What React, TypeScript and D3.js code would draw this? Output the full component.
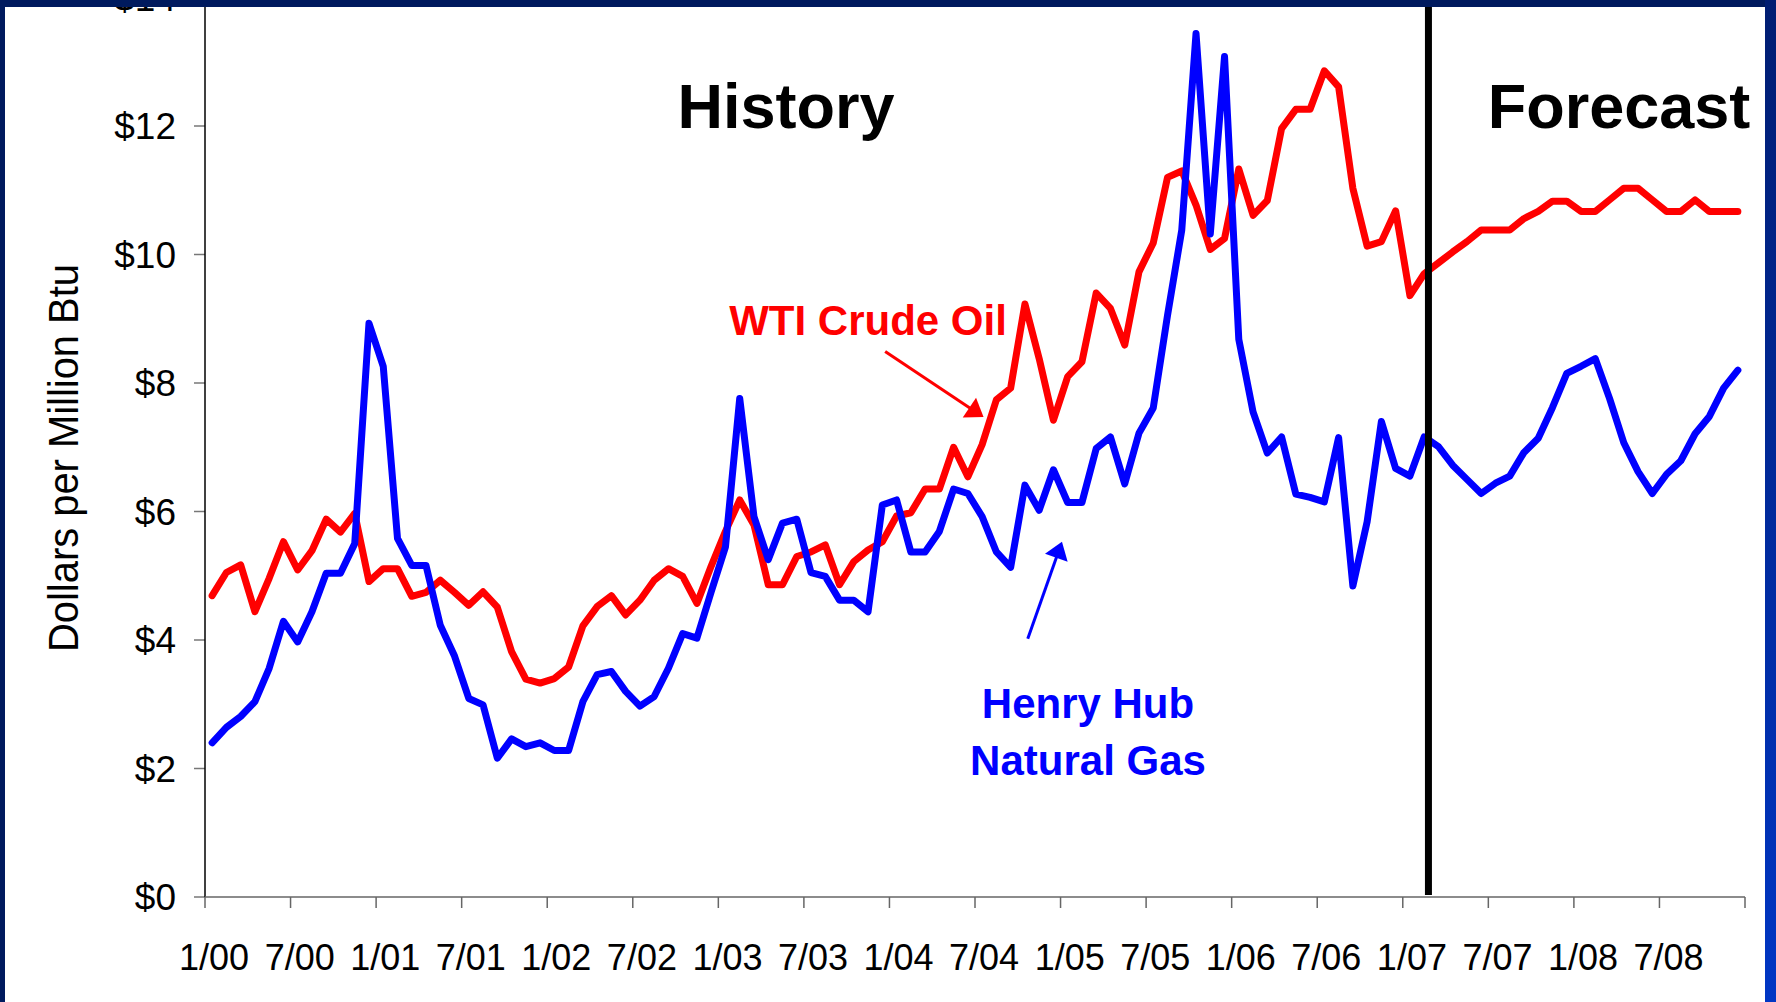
import React from 'react';
import * as d3 from 'd3';

const xTickLabels = ["1/00","7/00","1/01","7/01","1/02","7/02","1/03","7/03","1/04","7/04","1/05","7/05","1/06","7/06","1/07","7/07","1/08","7/08"];
const yTicks = [0, 2, 4, 6, 8, 10, 12, 14];

// Monthly, Jan 2000 - Dec 2008, $/MMBtu
const wti = [
  4.69, 5.05, 5.17, 4.44, 4.96, 5.53, 5.09, 5.39, 5.88, 5.68, 5.97, 4.91,
  5.11, 5.11, 4.68, 4.74, 4.93, 4.74, 4.54, 4.75, 4.51, 3.82, 3.39, 3.33,
  3.40, 3.58, 4.22, 4.52, 4.69, 4.39, 4.62, 4.93, 5.11, 4.99, 4.57, 5.15,
  5.69, 6.18, 5.79, 4.86, 4.86, 5.30, 5.37, 5.48, 4.86, 5.22, 5.40, 5.53,
  5.93, 5.98, 6.35, 6.35, 7.00, 6.54, 7.04, 7.74, 7.92, 9.23, 8.38, 7.42,
  8.10, 8.33, 9.40, 9.16, 8.59, 9.73, 10.18, 11.20, 11.30, 10.77, 10.08, 10.25,
  11.33, 10.61, 10.84, 11.96, 12.26, 12.26, 12.86, 12.61, 11.03, 10.13, 10.20, 10.68,
  9.36, 9.70, 9.87, 10.04, 10.20, 10.38, 10.38, 10.38, 10.56, 10.67, 10.83, 10.83,
  10.67, 10.67, 10.85, 11.03, 11.03, 10.85, 10.67, 10.67, 10.85, 10.67, 10.67, 10.67,
];

const henryHub = [
  2.40, 2.64, 2.81, 3.04, 3.56, 4.29, 3.97, 4.44, 5.04, 5.04, 5.50, 8.93,
  8.26, 5.58, 5.16, 5.16, 4.23, 3.75, 3.09, 2.99, 2.16, 2.46, 2.34, 2.40,
  2.28, 2.28, 3.04, 3.46, 3.51, 3.20, 2.97, 3.12, 3.56, 4.10, 4.03, 4.75,
  5.45, 7.76, 5.92, 5.25, 5.82, 5.88, 5.05, 4.99, 4.62, 4.62, 4.44, 6.10,
  6.18, 5.37, 5.37, 5.69, 6.35, 6.28, 5.92, 5.37, 5.13, 6.41, 6.02, 6.65,
  6.14, 6.14, 6.98, 7.16, 6.43, 7.22, 7.61, 9.05, 10.38, 13.44, 10.32, 13.08,
  8.68, 7.55, 6.91, 7.16, 6.27, 6.22, 6.15, 7.15, 4.84, 5.84, 7.40, 6.67,
  6.55, 7.16, 7.01, 6.72, 6.50, 6.28, 6.44, 6.55, 6.92, 7.14, 7.62, 8.15,
  8.26, 8.38, 7.76, 7.07, 6.62, 6.28, 6.58, 6.79, 7.21, 7.48, 7.92, 8.20,
];

// month position (in months since Jan 2000) of the history/forecast divider
const forecastDivider = 85.8;

// annotation arrows in data units: [month, value]
const wtiArrow = { from: [47.7, 8.49], to: [54.6, 7.47] };
const hhArrow = { from: [57.7, 4.02], to: [60.1, 5.53] };

const W = 1776;
const H = 1002;
const FONT = "'Liberation Sans', Arial, Helvetica, sans-serif";

function arrowHead(x1: number, y1: number, x2: number, y2: number, len: number, half: number) {
  const dx = x2 - x1, dy = y2 - y1;
  const d = Math.hypot(dx, dy);
  const ux = dx / d, uy = dy / d;
  const bx = x2 - ux * len, by = y2 - uy * len;
  const px = -uy, py = ux;
  return `${x2},${y2} ${bx + px * half},${by + py * half} ${bx - px * half},${by - py * half}`;
}

export default function App() {
  const x = d3.scaleLinear().domain([0, 108]).range([205, 1745]);
  const y = d3.scaleLinear().domain([0, 14]).range([897, -2.5]);
  const line = d3.line<number>().x((_, i) => x(i + 0.5)).y(d => y(d));
  const xTicks = d3.range(0, 109, 6);

  const renderArrow = (a: { from: number[]; to: number[] }, color: string) => {
    const x1 = x(a.from[0]), y1 = y(a.from[1]);
    const x2 = x(a.to[0]), y2 = y(a.to[1]);
    const d = Math.hypot(x2 - x1, y2 - y1);
    const ex = x2 - ((x2 - x1) / d) * 12, ey = y2 - ((y2 - y1) / d) * 12;
    return (
      <g>
        <line x1={x1} y1={y1} x2={ex} y2={ey} stroke={color} strokeWidth={3} />
        <polygon points={arrowHead(x1, y1, x2, y2, 17, 12)} fill={color} />
      </g>
    );
  };

  return (
    <svg width={W} height={H} style={{ position: 'absolute', left: 0, top: 0 }} fontFamily={FONT}>
      <defs>
        <linearGradient id="rightEdge" x1="0" y1="0" x2="0" y2="1">
          <stop offset="0" stopColor="#001d72" />
          <stop offset="1" stopColor="#0036c4" />
        </linearGradient>
      </defs>
      <rect x={0} y={0} width={W} height={H} fill="#ffffff" />

      {/* Y axis */}
      {yTicks.map(t => (
        <g key={t}>
          <line x1={194} x2={205} y1={y(t)} y2={y(t)} stroke="#777" strokeWidth={1.5} />
          <text x={176} y={y(t)} dy="0.36em" textAnchor="end" fontSize={37} fill="#000">{`$${t}`}</text>
        </g>
      ))}
      <line x1={205} x2={205} y1={-5} y2={897} stroke="#000" strokeWidth={1.5} />

      {/* X axis */}
      <line x1={205} x2={1745} y1={897} y2={897} stroke="#666" strokeWidth={1.5} />
      {xTicks.map(t => (
        <line key={t} x1={x(t)} x2={x(t)} y1={897} y2={908} stroke="#666" strokeWidth={1.5} />
      ))}
      {xTickLabels.map((lab, k) => (
        <text key={lab} x={x(k * 6 + 0.5) + 2} y={970} textAnchor="middle" fontSize={36} fill="#000">{lab}</text>
      ))}

      {/* Y axis title */}
      <text transform="translate(78,458) rotate(-90)" textAnchor="middle" fontSize={42} fill="#000"
        textLength={388} lengthAdjust="spacingAndGlyphs">Dollars per Million Btu</text>

      {/* Series */}
      <path d={line(wti) || ''} fill="none" stroke="#ff0000" strokeWidth={7} strokeLinejoin="round" strokeLinecap="round" />
      <path d={line(henryHub) || ''} fill="none" stroke="#0000ff" strokeWidth={7} strokeLinejoin="round" strokeLinecap="round" />

      {/* Divider */}
      <line x1={x(forecastDivider)} x2={x(forecastDivider)} y1={0} y2={895} stroke="#000" strokeWidth={7} />

      {/* Section titles */}
      <text x={786} y={128} textAnchor="middle" fontSize={63} fontWeight="bold" fill="#000">History</text>
      <text x={1619} y={128} textAnchor="middle" fontSize={63} fontWeight="bold" fill="#000">Forecast</text>

      {/* Series labels */}
      <text x={868} y={335} textAnchor="middle" fontSize={42} fontWeight="bold" fill="#ff0000">WTI Crude Oil</text>
      <text x={1088} y={718} textAnchor="middle" fontSize={42} fontWeight="bold" fill="#0000ff">Henry Hub</text>
      <text x={1088} y={775} textAnchor="middle" fontSize={42} fontWeight="bold" fill="#0000ff">Natural Gas</text>
      {renderArrow(wtiArrow, '#ff0000')}
      {renderArrow(hhArrow, '#0000ff')}

      {/* Frame */}
      <rect x={0} y={0} width={W} height={7} fill="#001a5e" />
      <rect x={0} y={0} width={5} height={H} fill="#001a5e" />
      <rect x={1765} y={0} width={11} height={H} fill="url(#rightEdge)" />
    </svg>
  );
}
